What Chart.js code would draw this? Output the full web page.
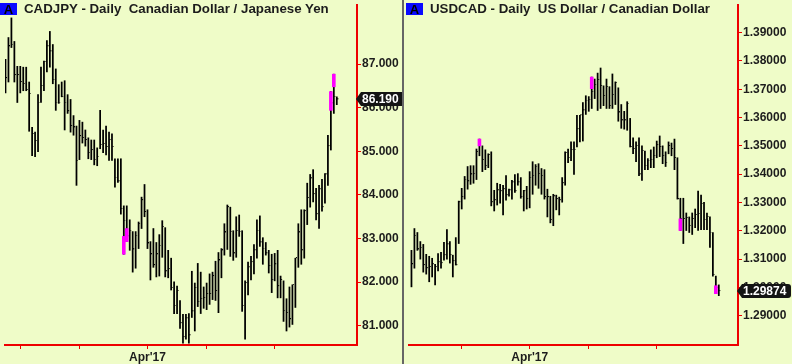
<!DOCTYPE html>
<html lang="en">
<head>
<meta charset="UTF-8">
<title>CADJPY / USDCAD Daily</title>
<style>
  body { margin: 0; background: #effcc8; font-family: "Liberation Sans", Arial, sans-serif; }
  #wrap { position: relative; width: 792px; height: 364px; overflow: hidden; background: #effcc8; }
  canvas { position: absolute; top: 0; }
  #cadjpy { left: 0; }
  #usdcad { left: 404px; }
  .divider { position: absolute; left: 402px; top: 0; width: 2px; height: 364px; background: #666; }
  .abox { position: absolute; top: 3px; width: 17px; height: 12px; background: #0a0aff; color: #000;
          font-weight: bold; font-size: 13px; line-height: 13px; text-align: center; }
  .title { position: absolute; top: 1px; font-weight: bold; font-size: 13.3px; line-height: 16px;
           color: #1c1c1c; white-space: pre; }
</style>
<script src="https://cdn.jsdelivr.net/npm/chart.js"></script>
</head>
<body>
<div id="wrap">
  <canvas id="cadjpy" width="403" height="364"></canvas>
  <canvas id="usdcad" width="388" height="364"></canvas>
  <div class="divider"></div>
  <div class="abox" style="left:0">A</div>
  <div class="title" style="left:24px">CADJPY - Daily  Canadian Dollar / Japanese Yen</div>
  <div class="abox" style="left:406px">A</div>
  <div class="title" style="left:430px">USDCAD - Daily  US Dollar / Canadian Dollar</div>
</div>
<script>
// ---- CADJPY daily bars (Jan 25 - Jun 30 2017) ----
const cadjpyHigh = [87.11,87.61,88.06,87.52,86.95,86.95,86.93,86.93,86.59,85.55,
  85.44,86.30,86.93,87.07,87.54,87.75,87.45,86.89,86.53,86.59,
  86.62,86.30,86.19,85.82,85.58,85.71,85.67,85.49,85.31,85.26,
  85.26,85.08,85.94,85.49,85.58,85.44,85.40,84.83,84.83,84.83,
  83.75,83.75,83.43,83.16,83.16,83.38,83.95,84.24,83.66,82.93,
  83.23,82.91,83.09,83.41,83.25,82.73,82.55,82.01,81.91,81.58,
  81.26,81.26,81.28,82.25,81.98,82.43,82.23,81.89,81.98,82.19,
  82.23,82.48,82.68,82.77,83.34,83.77,83.72,83.18,83.50,83.54,
  83.18,82.03,82.46,82.59,82.86,83.43,83.52,83.02,82.91,82.73,
  82.64,82.66,82.73,82.14,82.03,81.62,81.89,81.94,82.55,83.34,
  83.66,83.66,84.27,84.47,84.58,84.15,84.22,84.36,84.49,85.37,
  86.37,86.77,86.25];
const cadjpyLow = [86.34,86.59,87.38,86.59,86.12,86.34,86.39,86.39,85.46,84.90,
  84.88,84.99,86.12,86.39,86.82,86.93,86.55,85.94,86.10,86.25,
  85.49,85.87,85.44,85.37,84.22,84.81,85.19,85.12,84.83,84.81,
  84.69,84.67,85.06,84.97,84.92,84.79,84.79,84.18,84.29,83.56,
  82.64,82.93,82.73,82.23,82.32,82.77,83.23,83.50,82.77,82.05,
  82.34,82.12,82.14,82.57,82.12,82.10,81.82,81.28,81.28,80.94,
  80.60,80.69,80.60,81.19,80.88,81.44,81.28,81.40,81.37,81.49,
  81.60,81.58,81.30,82.10,82.62,82.75,82.59,82.50,82.57,83.05,
  81.33,80.69,81.71,82.05,82.19,82.55,82.82,82.41,82.62,82.21,
  81.76,82.03,81.64,81.64,81.10,80.88,80.97,81.03,81.42,82.34,
  82.41,82.55,83.32,83.72,83.84,83.43,83.23,83.63,83.81,84.22,
  85.03,85.87,86.07];
const cadjpyClose = [86.68,87.41,87.45,86.75,86.75,86.59,86.55,86.41,86.32,85.40,
  85.24,86.12,86.50,87.05,87.41,87.29,86.64,86.12,86.12,86.25,
  86.12,85.92,85.58,85.55,84.79,85.35,85.31,85.26,84.97,85.03,
  84.81,84.88,85.15,85.17,85.10,85.26,85.10,84.40,84.31,83.68,
  83.41,83.05,83.18,82.75,83.07,83.34,83.88,83.61,82.89,82.64,
  82.39,82.64,82.84,83.27,82.25,82.30,81.87,81.46,81.80,81.06,
  80.74,81.17,80.78,81.33,81.87,81.55,81.62,81.64,81.73,81.73,
  82.14,81.80,82.50,82.73,83.14,83.72,83.16,82.66,83.18,83.16,
  81.46,81.98,82.34,82.46,82.73,83.18,82.91,82.77,82.66,82.37,
  82.05,82.41,81.91,82.05,81.35,81.30,81.15,81.94,82.55,83.14,
  82.73,83.63,83.93,84.38,84.02,83.56,84.13,83.72,84.47,85.12,
  86.10,86.25,86.19];
const cadjpyMarkIdx = [40, 41, 110, 111];
const cadjpyMarkLo = [82.64, 82.93, 85.94, 86.48];
const cadjpyMarkHi = [83.05, 83.23, 86.37, 86.77];
const cadjpyYTicks = [81, 82, 83, 84, 85, 86, 87];
const cadjpyXTicks = [5, 25, 48, 68, 91];
const cadjpyXLabels = ['', '', "Apr'17", '', ''];

// ---- USDCAD daily bars (Feb 6 - Jun 30 2017) ----
const usdcadHigh = [1.3131,1.3208,1.3194,1.3162,1.3152,1.3117,1.3110,1.3103,1.3082,1.3120,
  1.3124,1.3159,1.3204,1.3162,1.3114,1.3176,1.3305,1.3350,1.3392,1.3427,
  1.3430,1.3430,1.3489,1.3524,1.3500,1.3486,1.3472,1.3479,1.3343,1.3368,
  1.3364,1.3361,1.3395,1.3347,1.3378,1.3399,1.3402,1.3388,1.3343,1.3357,
  1.3409,1.3444,1.3434,1.3437,1.3420,1.3416,1.3347,1.3322,1.3329,1.3326,
  1.3319,1.3388,1.3479,1.3489,1.3514,1.3514,1.3608,1.3608,1.3653,1.3677,
  1.3674,1.3743,1.3736,1.3757,1.3775,1.3712,1.3736,1.3709,1.3754,1.3726,
  1.3705,1.3646,1.3622,1.3656,1.3597,1.3528,1.3514,1.3528,1.3500,1.3482,
  1.3455,1.3486,1.3496,1.3517,1.3535,1.3500,1.3479,1.3514,1.3510,1.3524,
  1.3458,1.3315,1.3315,1.3263,1.3249,1.3263,1.3277,1.3340,1.3326,1.3301,
  1.3263,1.3249,1.3194,1.3040,1.3009];
const usdcadLow = [1.3002,1.3068,1.3131,1.3100,1.3054,1.3047,1.3020,1.3037,1.3009,1.3058,
  1.3068,1.3096,1.3100,1.3086,1.3037,1.3079,1.3155,1.3277,1.3312,1.3347,
  1.3364,1.3368,1.3381,1.3465,1.3409,1.3416,1.3423,1.3288,1.3270,1.3291,
  1.3298,1.3256,1.3308,1.3322,1.3312,1.3336,1.3361,1.3315,1.3270,1.3277,
  1.3281,1.3329,1.3361,1.3350,1.3329,1.3312,1.3249,1.3228,1.3218,1.3274,
  1.3256,1.3301,1.3361,1.3441,1.3448,1.3399,1.3496,1.3514,1.3517,1.3611,
  1.3622,1.3632,1.3667,1.3625,1.3632,1.3642,1.3632,1.3632,1.3632,1.3646,
  1.3587,1.3562,1.3559,1.3555,1.3496,1.3472,1.3444,1.3395,1.3378,1.3416,
  1.3416,1.3423,1.3423,1.3458,1.3462,1.3437,1.3427,1.3472,1.3465,1.3416,
  1.3312,1.3201,1.3155,1.3201,1.3194,1.3187,1.3211,1.3201,1.3204,1.3204,
  1.3204,1.3141,1.3040,1.2978,1.2971];
const usdcadClose = [1.3082,1.3183,1.3134,1.3141,1.3079,1.3068,1.3072,1.3082,1.3072,1.3089,
  1.3086,1.3114,1.3152,1.3114,1.3093,1.3079,1.3301,1.3319,1.3381,1.3375,
  1.3399,1.3402,1.3479,1.3500,1.3451,1.3430,1.3468,1.3301,1.3308,1.3343,
  1.3340,1.3347,1.3326,1.3343,1.3371,1.3340,1.3371,1.3319,1.3340,1.3312,
  1.3388,1.3395,1.3427,1.3402,1.3395,1.3319,1.3319,1.3239,1.3322,1.3312,
  1.3308,1.3368,1.3475,1.3458,1.3486,1.3486,1.3559,1.3608,1.3625,1.3660,
  1.3663,1.3691,1.3716,1.3733,1.3712,1.3677,1.3709,1.3642,1.3681,1.3723,
  1.3618,1.3590,1.3590,1.3649,1.3496,1.3489,1.3500,1.3399,1.3482,1.3430,
  1.3448,1.3451,1.3465,1.3503,1.3496,1.3465,1.3441,1.3500,1.3489,1.3458,
  1.3312,1.3242,1.3242,1.3246,1.3218,1.3242,1.3256,1.3260,1.3295,1.3239,
  1.3249,1.3194,1.3044,1.2999,1.29874];
const usdcadMarkIdx = [23, 61, 91, 103];
const usdcadMarkLo = [1.3500, 1.3702, 1.3201, 1.2978];
const usdcadMarkHi = [1.3524, 1.3743, 1.3242, 1.3006];
const usdcadYTicks = [1.29, 1.30, 1.31, 1.32, 1.33, 1.34, 1.35, 1.36, 1.37, 1.38, 1.39];
const usdcadXTicks = [17, 40, 60, 83];
const usdcadXLabels = ['', "Apr'17", '', ''];

const RED = '#ee0000';
const TEXT = '#1c1c1c';
Chart.defaults.font.family = '"Liberation Sans", Arial, sans-serif';

// small close tick, drawn just right of the bar
function closeTick() {
    const c = document.createElement('canvas');
    c.width = 5;
    c.height = 2;
    const g = c.getContext('2d');
    g.fillStyle = '#000';
    g.fillRect(3, 0, 1, 1);
    return c;
}
const tickImg = closeTick();

// black tag with last price on the price axis
const lastPriceTag = {
    id: 'lastPriceTag',
    afterDraw(chart, args, opts) {
        const {ctx, chartArea, scales} = chart;
        const y = Math.round(scales.y.getPixelForValue(opts.value));
        const x0 = chartArea.right;
        const x1 = x0 + opts.width;
        const h = 14, r = 3;
        ctx.save();
        ctx.fillStyle = '#141414';
        ctx.beginPath();
        ctx.moveTo(x0 - 1, y);
        ctx.lineTo(x0 + 4, y - h / 2);
        ctx.lineTo(x1 - r, y - h / 2);
        ctx.quadraticCurveTo(x1, y - h / 2, x1, y - h / 2 + r);
        ctx.lineTo(x1, y + h / 2 - r);
        ctx.quadraticCurveTo(x1, y + h / 2, x1 - r, y + h / 2);
        ctx.lineTo(x0 + 4, y + h / 2);
        ctx.closePath();
        ctx.fill();
        ctx.fillStyle = '#ffffff';
        ctx.font = 'bold 12px "Liberation Sans", Arial, sans-serif';
        ctx.textBaseline = 'middle';
        ctx.fillText(opts.text, x0 + 5, y + 1);
        ctx.restore();
    }
};

function makeChart(id, high, low, close, markIdx, markLo, markHi, yTicks, yMin, yMax, decimals,
                   xTicks, xLabels, xMin, xMax, axisWidth, tagWidth) {
    const bars = high.map((h, i) => ({x: i, y: [low[i], h]}));
    const closes = close.map((c, i) => ({x: i, y: c}));
    const marks = markIdx.map((idx, k) => ({x: idx, y: [markLo[k], markHi[k]]}));

    return new Chart(document.getElementById(id), {
        type: 'bar',
        data: {
            datasets: [
                {
                    data: marks,
                    backgroundColor: '#ff00ff',
                    grouped: false,
                    maxBarThickness: 3,
                    barPercentage: 1,
                    categoryPercentage: 1,
                    order: 0
                },
                {
                    type: 'scatter',
                    data: closes,
                    pointStyle: tickImg,
                    pointRadius: 3,
                    order: 1
                },
                {
                    data: bars,
                    backgroundColor: '#000000',
                    grouped: false,
                    maxBarThickness: 1.1,
                    barPercentage: 1,
                    categoryPercentage: 1,
                    order: 2
                }
            ]
        },
        options: {
            responsive: false,
            animation: false,
            events: [],
            layout: { padding: 0 },
            plugins: {
                legend: { display: false },
                tooltip: { enabled: false },
                lastPriceTag: { value: close[close.length - 1], text: close[close.length - 1].toFixed(decimals), width: tagWidth }
            },
            scales: {
                x: {
                    type: 'linear',
                    offset: false,
                    min: xMin,
                    max: xMax,
                    afterBuildTicks: (s) => { s.ticks = xTicks.map(v => ({value: v})); },
                    afterFit: (s) => { s.height = 19; s.paddingLeft = 0; s.paddingRight = 0; },
                    ticks: {
                        autoSkip: false,
                        maxRotation: 0,
                        padding: 1,
                        color: TEXT,
                        font: { size: 12, weight: 'bold' },
                        callback: (v) => xLabels[xTicks.indexOf(v)] || ''
                    },
                    grid: { offset: false, drawOnChartArea: false, color: RED, tickLength: 4, tickWidth: 1 },
                    border: { color: RED, width: 2 }
                },
                y: {
                    position: 'right',
                    min: yMin,
                    max: yMax,
                    afterBuildTicks: (s) => { s.ticks = yTicks.map(v => ({value: v})); },
                    afterFit: (s) => { s.width = axisWidth; s.paddingTop = 0; s.paddingBottom = 0; },
                    ticks: {
                        padding: 1,
                        color: TEXT,
                        font: { size: 12, weight: 'bold' },
                        callback: (v) => Number(v).toFixed(decimals)
                    },
                    grid: { drawOnChartArea: false, color: RED, tickLength: 4, tickWidth: 1 },
                    border: { color: RED, width: 2 }
                }
            }
        },
        plugins: [lastPriceTag]
    });
}

makeChart('cadjpy', cadjpyHigh, cadjpyLow, cadjpyClose, cadjpyMarkIdx, cadjpyMarkLo, cadjpyMarkHi,
    cadjpyYTicks, 80.559, 88.356, 3, cadjpyXTicks, cadjpyXLabels, -1 / 6, 119 - 1 / 6, 46, 50);
makeChart('usdcad', usdcadHigh, usdcadLow, usdcadClose, usdcadMarkIdx, usdcadMarkLo, usdcadMarkHi,
    usdcadYTicks, 1.27967, 1.39975, 5, usdcadXTicks, usdcadXLabels, -2.5 / 3, 110.5, 54, 53);
</script>
</body>
</html>
